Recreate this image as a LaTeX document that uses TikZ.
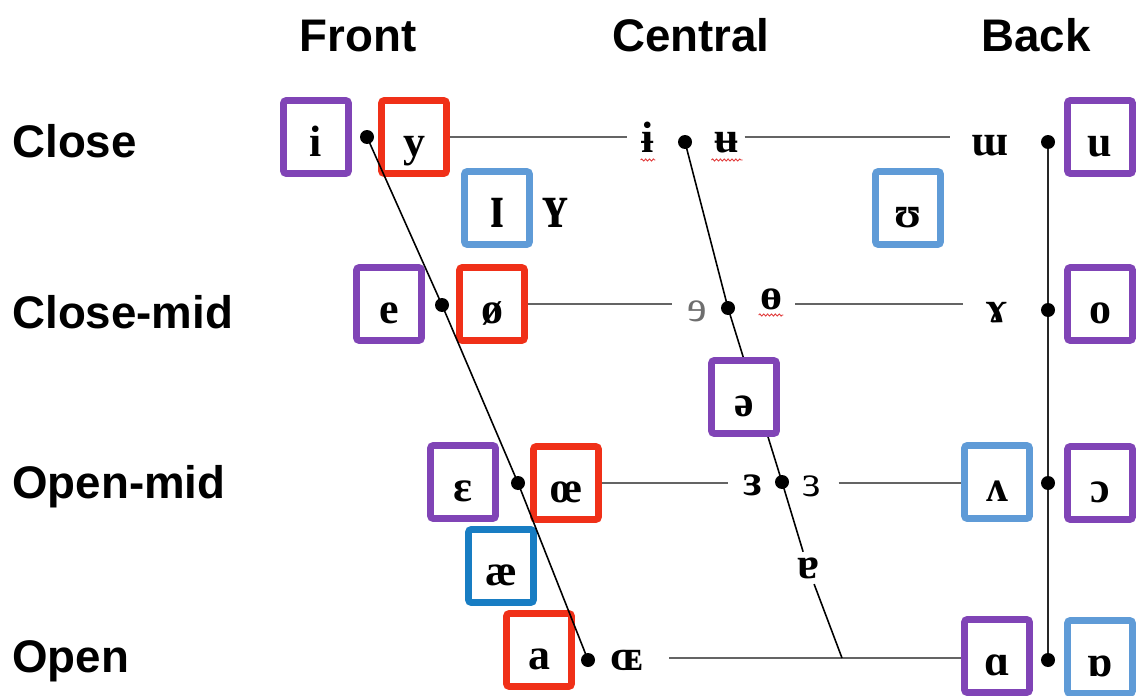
\documentclass[tikz,border=0pt]{standalone}
\usepackage{fontspec}
\setmainfont{Liberation Serif}
\newfontfamily\hdfont{Liberation Sans}
\usetikzlibrary{calc,backgrounds,decorations.pathmorphing}
\definecolor{vpurple}{RGB}{128,68,182}
\definecolor{vred}{RGB}{240,48,24}
\definecolor{vlblue}{RGB}{95,155,215}
\definecolor{vblue}{RGB}{24,125,195}
\definecolor{linegray}{RGB}{100,100,100}
\definecolor{symgray}{RGB}{110,110,110}
\definecolor{squigred}{RGB}{225,60,60}
\begin{document}
\begin{tikzpicture}[x=0.02cm,y=-0.02cm,
  vbox/.style={draw=#1, line width=3.8pt, fill=white, rounded corners=1.5pt,
    minimum width=1.3cm, minimum height=1.46cm, inner sep=0pt,
    font=\fontsize{25}{25}\selectfont\bfseries, text height=22.7pt, text depth=0pt},
  sym/.style={font=\fontsize{25}{25}\selectfont\bfseries, inner sep=0pt, anchor=base},
  lightsym/.style={font=\fontsize{25}{25}\selectfont},
  head/.style={font=\hdfont\fontsize{26}{26}\selectfont\bfseries, inner sep=0pt, anchor=base},
  dot/.style={circle, fill=black, inner sep=0pt, minimum size=0.28cm},
  hline/.style={draw=linegray, line width=1.4pt},
  sline/.style={draw=black, line width=0.9pt},
  squig/.style={draw=squigred, line width=0.5pt, decorate,
    decoration={snake, amplitude=0.6pt, segment length=2.2pt}}
]
\useasboundingbox (0,0) rectangle (1136,696);
\begin{scope}[on background layer]
  \fill[white] (0,0) rectangle (1136,696);
\end{scope}

% column and row headings
\node[head] (hfront) at (358,52) {Front};
\node[head] (hcentral) at (691,52) {Central};
\node[head] (hback) at (1036,52) {Back};
\node[head, anchor=base west] (rclose) at (12,157) {Close};
\node[head, anchor=base west] (rclosemid) at (12,328) {Close-mid};
\node[head, anchor=base west] (ropenmid) at (12,498) {Open-mid};
\node[head, anchor=base west] (ropen) at (12,672) {Open};

% dots on the front, central and back lines
\node[dot] (f1) at (367,137) {};
\node[dot] (f2) at (442,305) {};
\node[dot] (f3) at (518,483) {};
\node[dot] (f4) at (588,660) {};
\node[dot] (c1) at (685,142) {};
\node[dot] (c2) at (728,308) {};
\node[dot] (c3) at (782,482) {};
\node[dot] (b1) at (1048,142) {};
\node[dot] (b2) at (1048,310) {};
\node[dot] (b3) at (1048,483) {};
\node[dot] (b4) at (1048,660) {};
\coordinate (jn) at (842,658);

% boxed vowels
\node[vbox=vpurple] (bi) at (316,137) {i};
\node[vbox=vred] (by) at (414,137) {y};
\node[vbox=vlblue] (bsci) at (497,208) {\scalebox{1.1}[1.45]{ɪ}};
\node[vbox=vlblue] (bhsu) at (908,208) {ʊ};
\node[vbox=vpurple] (bu) at (1100,137) {u};
\node[vbox=vpurple] (be) at (389,304) {e};
\node[vbox=vred] (bslo) at (492,304) {ø};
\node[vbox=vpurple] (bo) at (1100,304) {o};
\node[vbox=vpurple] (bschwa) at (744,397) {ə};
\node[vbox=vpurple] (beps) at (463,482) {ɛ};
\node[vbox=vred] (boe) at (566,483) {œ};
\node[vbox=vlblue] (bwedge) at (997,482) {ʌ};
\node[vbox=vpurple] (bopo) at (1100,483) {ɔ};
\node[vbox=vblue] (bae) at (501,566) {æ};
\node[vbox=vred] (ba) at (539,650) {a};
\node[vbox=vpurple] (balpha) at (997,656) {ɑ};
\node[vbox=vlblue] (bturnalpha) at (1100,657) {ɒ};

% unboxed vowels
\node[sym] (lscy) at (555,227) {\scalebox{1.1}[1.45]{ʏ}};
\node[sym] (lbari) at (648,153) {ɨ};
\node[sym] (lbaru) at (727,153) {ʉ};
\node[sym] (lturnm) at (990,155) {ɯ};
\node[sym, lightsym, text=symgray] (lreve) at (697,321) {ɘ};
\node[sym] (lbaro) at (771,309) {ɵ};
\node[sym] (lrams) at (997,322) {ɤ};
\node[sym] (lreveps) at (753,495) {ɜ};
\node[sym, lightsym] (lrevepsb) at (812,496) {ɜ};
\node[sym, inner sep=3pt] (lturna) at (808,578) {ɐ};
\node[sym] (lsmoe) at (627,670) {ɶ};

% spell-check underlines
\draw[squig] ($(lbari.base west)+(-1,7)$) -- ($(lbari.base east)+(1,7)$);
\draw[squig] ($(lbaru.base west)+(-3,7)$) -- ($(lbaru.base east)+(3,7)$);
\draw[squig] ($(lbaro.base west)+(-1,6)$) -- ($(lbaro.base east)+(1,6)$);

\begin{scope}[on background layer]
  % horizontal connectors
  \draw[hline, shorten >=0.3cm] (by.east) -- (by.east -| lbari.west);
  \draw[hline, shorten <=0.1cm, shorten >=0.42cm] (by.east -| lbaru.east) -- (by.east -| lturnm.west);
  \draw[hline, shorten >=0.3cm] (bslo.east) -- (bslo.east -| lreve.west);
  \draw[hline, shorten <=0.26cm, shorten >=0.44cm] (bslo.east -| lbaro.east) -- (bslo.east -| lrams.west);
  \draw[hline, shorten >=0.3cm] (boe.east) -- (boe.east -| lreveps.west);
  \draw[hline, shorten <=0.34cm] (boe.east -| lrevepsb.east) -- (boe.east -| bwedge.west);
  \draw[hline, shorten <=0.5cm] (jn -| lsmoe.east) -- (jn -| balpha.west);
  % central and back lines
  \draw[sline] (c1.center) -- (c2.center) -- (c3.center) -- (lturna);
  \draw[sline] (lturna) -- (jn);
  \draw[sline, draw=black!85] (b1.center) -- (b4.center);
\end{scope}

% front line, above the boxes
\draw[sline] (f1.center) -- (f2.center) -- (f3.center) -- (f4.center);
\end{tikzpicture}
\end{document}
